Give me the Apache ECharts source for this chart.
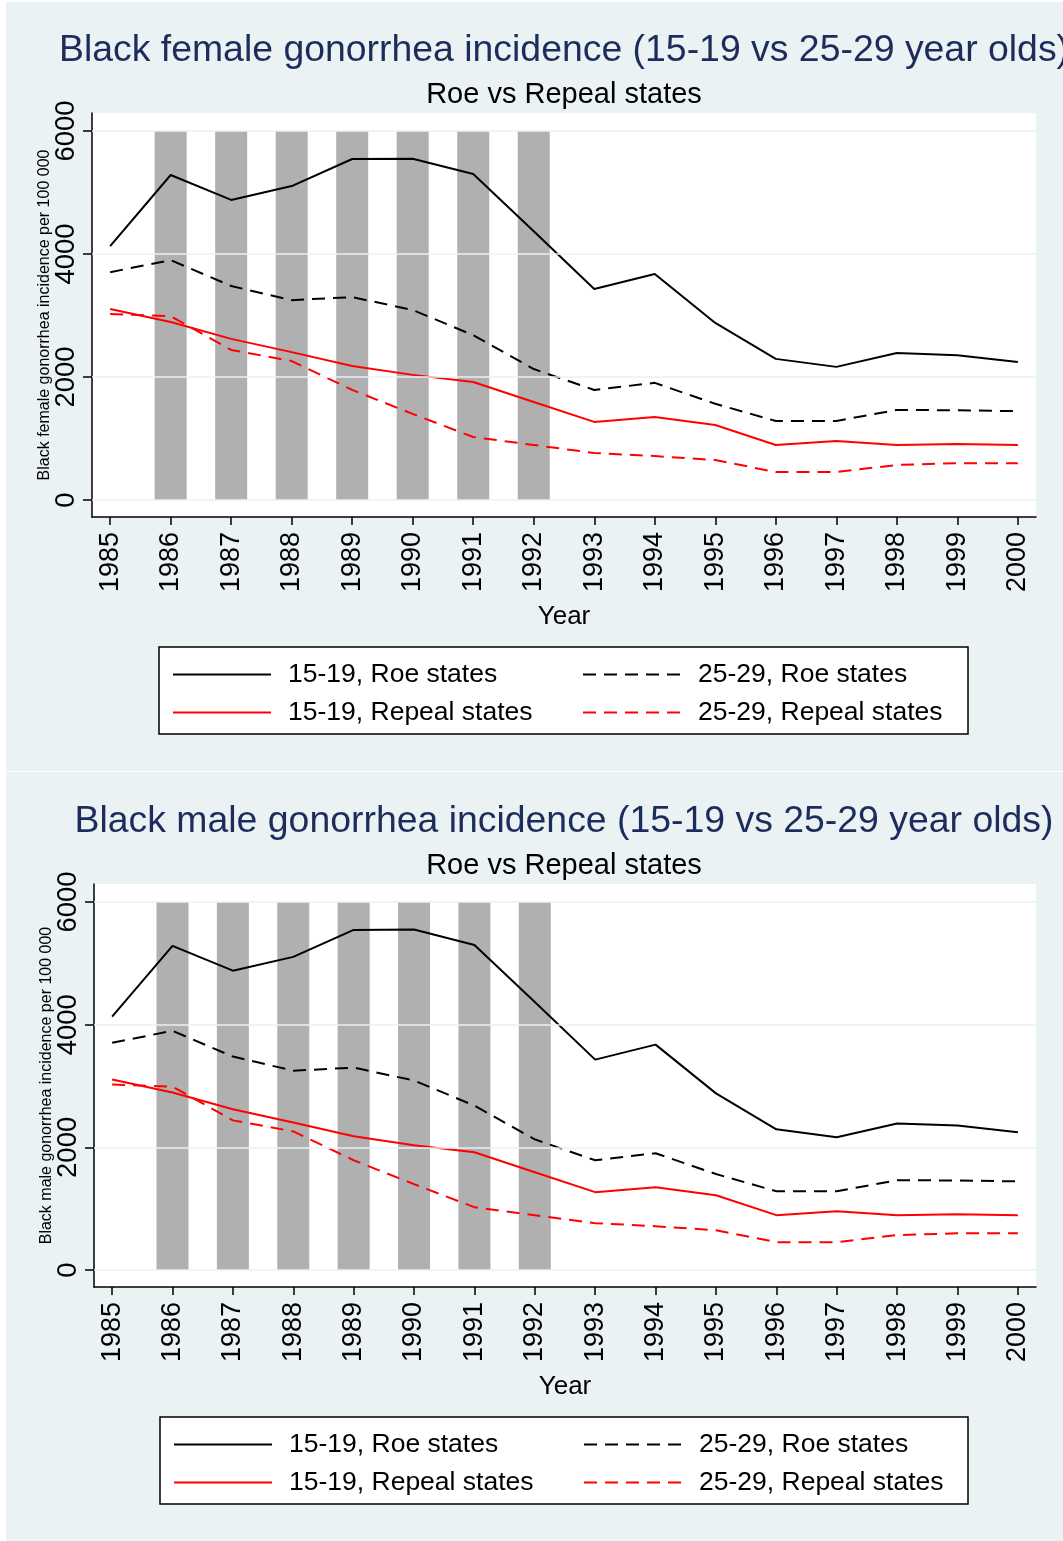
<!DOCTYPE html>
<html>
<head>
<meta charset="utf-8">
<script src="https://cdn.jsdelivr.net/npm/echarts@6/dist/echarts.min.js"></script>
<style>
html,body{margin:0;padding:0;background:#fff;}
#c{width:1063px;height:1541px;}
</style>
</head>
<body>
<div id="c"></div>
<script>
// ---- data ----
const years = [1985,1986,1987,1988,1989,1990,1991,1992,1993,1994,1995,1996,1997,1998,1999,2000];
const shadedYears = [1986,1987,1988,1989,1990,1991,1992];
const shadeTop = 6000;
const yTicks = [0,2000,4000,6000];

const femaleRoe1519    = [4130,5285,4880,5105,5545,5550,5300,4370,3430,3675,2880,2295,2165,2390,2355,2245];
const femaleRoe2529    = [3705,3900,3480,3250,3300,3090,2680,2130,1790,1905,1565,1285,1285,1465,1460,1445];
const femaleRepeal1519 = [3105,2895,2620,2405,2180,2035,1920,1595,1270,1350,1220,895,960,895,910,895];
const femaleRepeal2529 = [3025,2990,2440,2260,1790,1400,1025,895,765,715,650,455,455,570,600,600];

const maleRoe1519    = [4130,5285,4880,5105,5545,5550,5300,4370,3430,3675,2880,2295,2165,2390,2355,2245];
const maleRoe2529    = [3705,3900,3480,3250,3300,3090,2680,2130,1790,1905,1565,1285,1285,1465,1460,1445];
const maleRepeal1519 = [3105,2895,2620,2405,2180,2035,1920,1595,1270,1350,1220,895,960,895,910,895];
const maleRepeal2529 = [3025,2990,2440,2260,1790,1400,1025,895,765,715,650,455,455,570,600,600];

const seriesNames = ['15-19, Roe states','25-29, Roe states','15-19, Repeal states','25-29, Repeal states'];
const titles = ['Black female gonorrhea incidence (15-19 vs 25-29 year olds)','Black male gonorrhea incidence (15-19 vs 25-29 year olds)'];
const subtitle = 'Roe vs Repeal states';
const yNames = ['Black female gonorrhea incidence per 100 000','Black male gonorrhea incidence per 100 000'];
const xName = 'Year';

// ---- chart ----
const FONT = '"Liberation Sans", Arial, Helvetica, sans-serif';
const BG = '#eaf2f3';
const chart = echarts.init(document.getElementById('c'), null, {renderer:'canvas'});

const panels = [
  {grid:{left:92, top:113, width:944, height:404}, titleTop:32, subTop:80, legendY:[661,699], box:[159,647,809,87], col:[172,582],
   data:[femaleRoe1519,femaleRoe2529,femaleRepeal1519,femaleRepeal2529]},
  {grid:{left:94, top:884, width:942, height:403}, titleTop:803, subTop:851, legendY:[1431,1469], box:[160,1417,808,87], col:[173,583],
   data:[maleRoe1519,maleRoe2529,maleRepeal1519,maleRepeal2529]}
];

const styles = [
  {color:'#000', type:'solid'},
  {color:'#000', type:[13,8]},
  {color:'#ff0000', type:'solid'},
  {color:'#ff0000', type:[13,8]}
];

const option = {
  animation:false,
  backgroundColor:'#fff',
  textStyle:{fontFamily:FONT},
  title:[], grid:[], xAxis:[], yAxis:[], series:[], legend:[],
  graphic:[]
};

panels.forEach((p, i) => {
  option.graphic.push({type:'rect', z:-10, silent:true,
    shape:{x:6, y: i===0 ? 2 : 772, width:1057, height:769}, style:{fill:BG}});
  option.graphic.push({type:'rect', z:-5, silent:true,
    shape:{x:p.box[0], y:p.box[1], width:p.box[2], height:p.box[3]}, style:{fill:'#fff', stroke:'#000', lineWidth:1.5}});

  option.title.push({text:titles[i], left:564, top:p.titleTop, textAlign:'center', padding:0,
    textStyle:{fontFamily:FONT, fontSize:37.4, fontWeight:'normal', color:'#1c2d5c'}});
  option.title.push({text:subtitle, left:564, top:p.subTop, textAlign:'center', padding:0,
    textStyle:{fontFamily:FONT, fontSize:29, fontWeight:'normal', color:'#000'}});

  option.grid.push(Object.assign({show:true, backgroundColor:'#fff', borderWidth:0}, p.grid));

  option.xAxis.push({type:'value', gridIndex:i, min:1984.7, max:2000.3,
    name:xName, nameLocation:'middle', nameGap:87,
    nameTextStyle:{fontFamily:FONT, fontSize:26, color:'#000'},
    axisLine:{show:true, onZero:false, lineStyle:{color:'#000', width:1.5}},
    axisTick:{show:true, length:8, lineStyle:{color:'#000', width:1.5}, customValues:years},
    axisLabel:{show:true, rotate:90, fontSize:27, color:'#000', margin:15, fontFamily:FONT, customValues:years,
      formatter: v => String(v)},
    splitLine:{show:false}
  });
  option.yAxis.push({type:'value', gridIndex:i, min:-276, max:6293,
    name:yNames[i], nameLocation:'middle', nameGap:39, nameRotate:90, nameMoveOverlap:false,
    nameTextStyle:{fontFamily:FONT, fontSize:16, color:'#000'},
    axisLine:{show:true, onZero:false, lineStyle:{color:'#000', width:1.5}},
    axisTick:{show:true, length:9, lineStyle:{color:'#000', width:1.5}, customValues:yTicks},
    axisLabel:{show:true, rotate:90, fontSize:27.5, color:'#000', margin:12, fontFamily:FONT, customValues:yTicks,
      formatter: v => String(v)},
    splitLine:{show:false}
  });

  // gridlines
  option.series.push({type:'line', xAxisIndex:i, yAxisIndex:i, data:[], z:1, silent:true,
    markLine:{silent:true, symbol:'none', label:{show:false}, animation:false,
      lineStyle:{color:BG, width:1.5, type:'solid'},
      data: yTicks.map(v => ({yAxis:v}))}});
  // shaded bars
  option.series.push({type:'bar', name:'shade'+i, xAxisIndex:i, yAxisIndex:i, z:2, silent:true,
    barWidth:32, itemStyle:{color:'#b0b0b0'},
    data: shadedYears.map(y => [y, shadeTop])});
  // lines
  seriesNames.forEach((n, k) => {
    option.series.push({type:'line', name:n, xAxisIndex:i, yAxisIndex:i, z:3, symbol:'none', showSymbol:false,
      lineStyle:{color:styles[k].color, width:2, type:styles[k].type},
      itemStyle:{color:styles[k].color},
      data: years.map((y, j) => [y, p.data[k][j]])});
  });
  // legends
  seriesNames.forEach((n, k) => {
    const col = k % 2, row = Math.floor(k / 2);
    option.legend.push({data:[n], left:p.col[col], top:p.legendY[row], padding:0, itemWidth:98, itemHeight:14,
      selectedMode:false, orient:'horizontal',
      itemStyle:{opacity:0},
      textStyle:{fontFamily:FONT, fontSize:26.5, color:'#000', padding:[0,0,0,12]}});
  });
});

chart.setOption(option);
</script>
</body>
</html>
